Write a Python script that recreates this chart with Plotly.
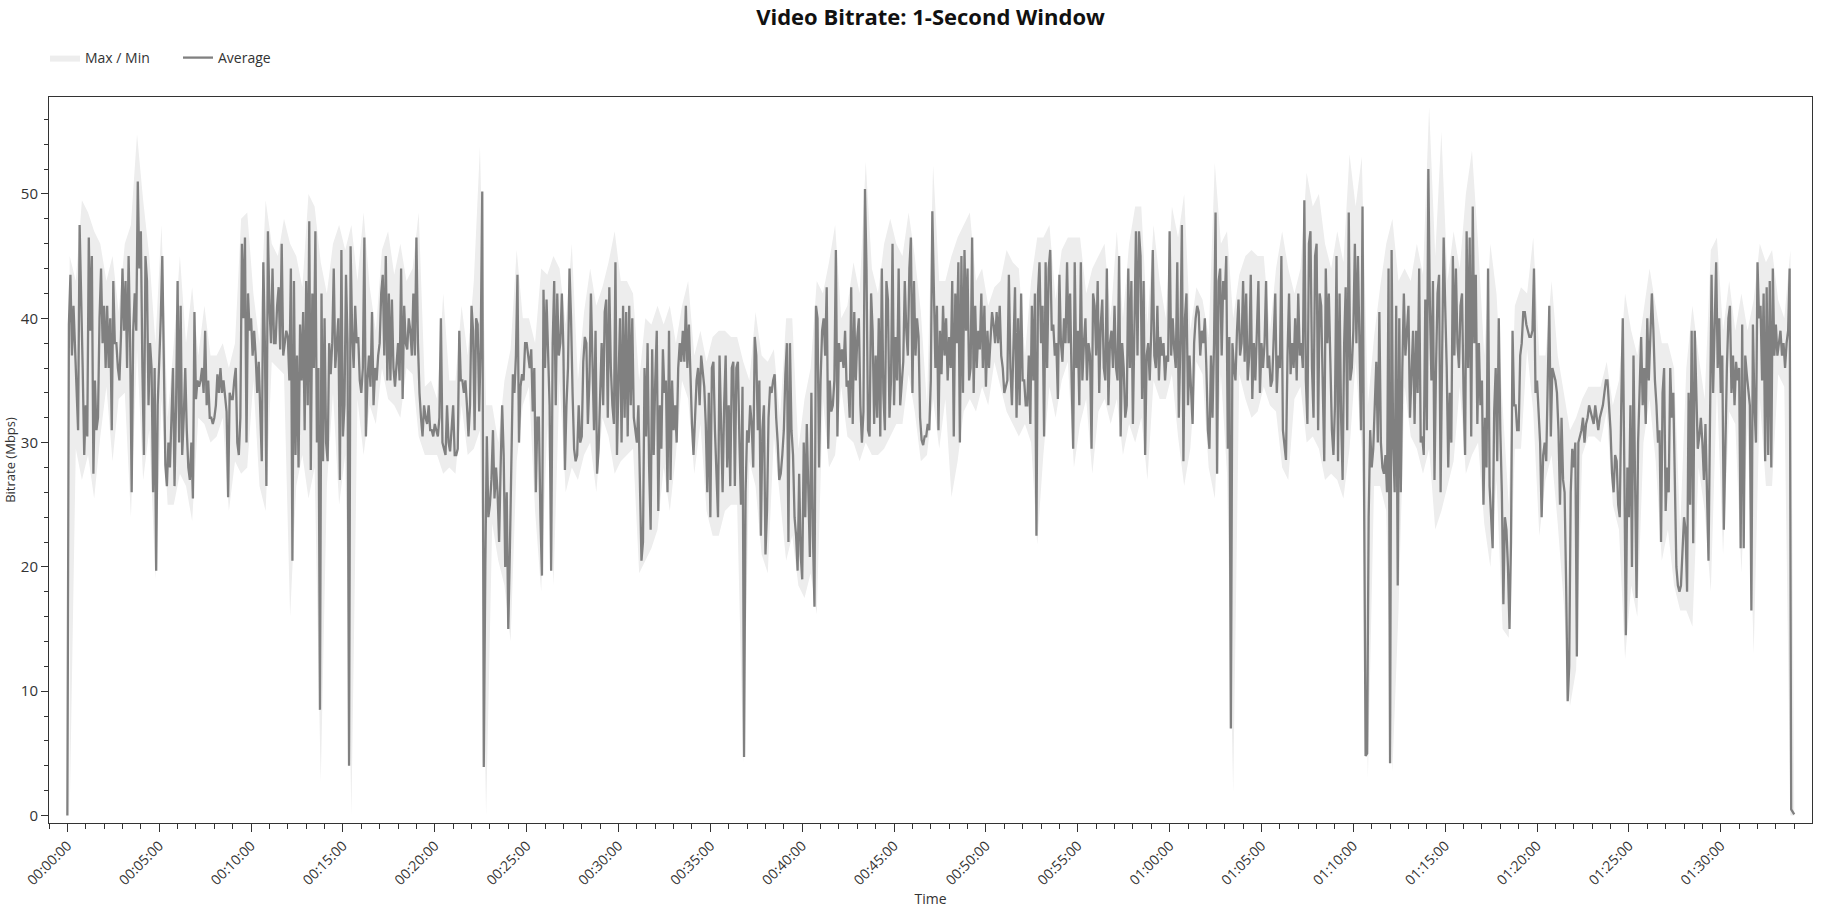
import numpy as np
import pandas as pd
import plotly.graph_objects as go

# ---- Average bitrate (Mbps), one value every 5 s, from 00:00:00 ----
avg_00 = [0, 39.5, 43.5, 37, 41, 37.5, 35, 31, 47.5, 40, 36, 29, 33, 30.5, 46.5, 39, 45, 27.5, 35, 31,
          32, 40, 44, 38, 41, 36, 41, 36, 40, 31, 43, 38, 38, 36, 35, 38.5, 44, 39, 43, 36,
          45, 38, 26, 39, 42, 39, 51, 44, 47, 36, 29, 45, 43, 33, 38, 36, 26, 36, 19.7, 33,
          36, 40, 45, 34, 28.2, 26.5, 30, 28, 33, 36, 26.5, 33, 43, 30, 41, 29, 32, 36, 31, 28,
          27, 30, 25.5, 40.5, 33.5, 35, 34.5, 35, 36, 34, 39, 33, 35, 32, 32, 31.5, 32, 33, 35.5, 34,
          36, 34, 35, 33.5, 32.5, 25.6, 34, 33.5, 33.5, 35, 36, 30, 29, 32, 46, 40, 46.5, 30, 42, 39,
          40, 37, 39, 37, 34, 36.5, 32, 28.5, 44.5, 38, 26.5, 47, 41, 38, 44, 38, 38, 41, 42.5, 37.5,
          46, 37, 38, 39, 38.5, 35, 44, 20.5, 43, 29, 37, 28, 39.5, 35, 40.5, 31, 43, 33, 47.8, 27.8,
          42, 36, 47, 30, 36, 8.5, 42, 28.5, 40, 30, 28.5, 38, 35.5, 38, 44, 36, 38, 40, 27, 45.5,
          30.5, 33, 43.5, 38, 4, 45.8, 39, 36, 41, 38, 38.5, 35, 34, 36, 46.5, 30.5, 35, 37, 34.5, 40.5]
avg_10 = [33, 36, 35, 37, 38, 42, 43.5, 37, 45, 35, 42, 35, 41.5, 36, 34.5, 36.5, 38, 35, 44, 33.5,
          41, 38, 37.5, 40, 39, 37, 42, 37, 46.5, 38, 34, 32, 30.5, 33, 32, 31.5, 33, 31, 31, 30.5,
          31.5, 31, 30.5, 32, 40, 30, 29.5, 29, 33, 30, 29.3, 31.5, 33, 29, 29, 29.5, 39, 35, 35, 34,
          35, 33, 30.5, 33, 41, 39, 31, 40, 39.5, 32.5, 38, 50.2, 3.9, 20, 30.5, 24, 25, 27, 31, 25.5,
          28, 26, 22, 28, 33, 29, 20, 26, 15, 21, 28, 35.5, 34, 37, 43.5, 30, 34.5, 35.5, 35, 38,
          38, 37, 36, 37.5, 32.5, 36, 26, 32, 32, 24, 19.3, 42.3, 36, 41.5, 38, 33, 19.7, 38, 43, 33,
          42, 37, 38, 42, 37.5, 27.8, 33, 36, 44, 40, 34, 29.5, 28.5, 29, 33, 30, 30.5, 36.5, 38.5, 38,
          31.5, 35, 42, 35, 31, 39, 27.5, 29.5, 34, 38, 33, 40.5, 41.5, 32, 42.5, 36, 33, 31.5, 44.5, 29,
          35, 40, 30, 41, 32, 40.5, 30.5, 41, 33, 40, 32, 31, 30, 33, 27, 20.5, 22, 36, 30.5, 38,
          28, 23, 37.5, 29, 35, 39, 24.5, 33, 29.5, 37.5, 34, 35, 26, 39, 27, 35, 31, 33, 30, 36]
avg_20 = [38, 36.5, 39, 36.5, 41, 36, 39.5, 35, 31.5, 29, 32, 35, 36, 33, 37, 35.5, 34.5, 31.5, 26, 34,
          24, 36, 36.5, 31, 27, 24, 37, 30, 26, 33, 37, 28, 33, 26.5, 36, 36.5, 26.5, 36, 36.5, 30,
          25, 34.5, 4.7, 26, 31, 30, 33, 31.5, 28, 38.5, 37, 31, 35, 22.5, 31, 33, 21, 24.5, 32, 34.5,
          34, 35, 35.5, 32, 30, 27, 27.5, 29, 31, 35.5, 38, 22, 38, 31, 29, 24, 22.5, 19.7, 27.5, 21,
          19, 30, 24, 31.5, 26, 20.8, 34, 22.5, 16.8, 41, 40, 28, 35, 39, 40, 37, 42.5, 29.5, 35, 32.5,
          33, 35, 45.5, 30.5, 38, 36.5, 37.5, 36, 39, 34.5, 35, 32, 42.5, 31.5, 40.5, 35, 38.5, 40, 33, 30,
          32.5, 50.4, 44, 31, 30.5, 42, 39, 31.5, 37, 32, 40, 30.5, 44, 34, 31, 43, 41.5, 32, 35, 46,
          33, 38.5, 35, 44, 33, 34.5, 36.5, 43, 39, 37, 44, 46.5, 34, 43, 37, 40, 38.5, 32, 30.2, 29.8,
          30.5, 30.5, 31.5, 31, 35, 48.6, 43.5, 36, 41, 31, 39, 35.5, 41, 37, 40, 35, 38.5, 36, 43, 30.5,
          42, 38, 44.5, 30, 45, 34, 45.5, 39, 44, 35, 36, 46.5, 34, 41, 36, 39, 37.5, 42, 36, 41]
avg_30 = [34.5, 39, 36, 38, 40.5, 39.5, 38, 40.5, 38, 41, 37, 36, 34, 34.5, 35, 43.5, 36, 33, 37, 42.5,
          32, 40, 33, 42, 35, 35, 33, 33, 37, 31.5, 41, 35, 42, 22.5, 42, 44.5, 38, 41, 30.5, 44.5,
          36, 44, 45.5, 39, 39.5, 37, 38, 33.5, 43.5, 38, 36.5, 40, 38, 44.5, 38, 42, 35, 29.5, 44.5, 36,
          39, 33, 44.5, 35, 38, 40, 35, 38, 37, 29.5, 42, 41, 37, 43, 34, 39.5, 41.5, 36, 35, 44,
          33, 38, 39, 36, 41, 36, 35, 45, 30.5, 38, 36, 32, 33, 44, 36, 43, 31.5, 38, 47, 37,
          47, 45, 33.5, 43, 29, 37, 38, 35, 39, 45.5, 37, 36, 41, 35, 38.5, 37, 38, 35, 37, 36.5,
          47, 37, 40, 37.5, 36, 44.5, 32, 38, 47.5, 28.5, 40, 42, 33, 37, 34, 31.5, 38, 40, 41, 40.5,
          37, 39, 38, 40, 36, 31, 29.5, 37, 32, 38, 48.5, 27.5, 43, 44, 37, 43, 41.5, 45, 29.5, 38.5,
          7, 38, 36, 35, 39, 41.5, 37, 38, 43, 36.5, 42, 35, 37, 43.5, 33.5, 38, 35, 40, 43, 34,
          38, 36, 38, 43, 36, 37, 34.5, 35, 38, 42, 34, 37, 36, 45, 31, 29.5, 28.6, 37, 42, 35.5]
avg_40 = [38, 36, 40, 35, 42, 37, 38, 36, 49.5, 35, 31.5, 46, 47, 36, 32, 45, 46, 31, 42, 41,
          35, 28.5, 44, 38, 42, 36, 31, 29, 33, 45, 28.5, 42, 32, 27, 38, 42.5, 31, 48.5, 35, 36,
          39, 46, 38, 45, 38, 31, 49, 31, 4.8, 5, 24, 31, 28, 29.5, 33, 36.5, 30, 40.5, 30, 28,
          27.5, 29, 26, 44, 4.2, 45.5, 30, 26, 41, 18.5, 40, 26, 36, 42, 37, 39, 41, 32, 35, 39,
          31.5, 39, 34, 44, 30, 30.5, 29, 41.5, 31, 52, 41, 35, 43, 27, 36, 42, 43.5, 26, 37, 46.5,
          41, 36, 28, 34, 30, 45, 37, 44, 38, 36, 41, 42, 34, 29, 47, 36, 46.5, 30.5, 49, 38,
          43.5, 31.5, 38, 33, 35, 25, 32, 28, 44, 26.5, 24, 21.5, 32.5, 36, 28.5, 40, 31, 26, 17, 24,
          23, 20, 15, 22, 39, 33, 33, 31, 31, 37, 38, 40.5, 40.5, 39.5, 39, 38.5, 38.5, 39, 44, 34,
          35, 32, 30, 24, 29, 30, 28.5, 35, 41, 30.5, 36, 35.5, 35, 34, 31, 25, 32, 27, 26, 18.5,
          9.2, 12, 26, 29.5, 28, 30, 12.8, 30, 30.5, 31, 32, 30, 31.5, 32, 33, 32.5, 32, 31.5, 33, 32]
avg_50 = [31, 32, 32.5, 33, 34, 35, 35, 33, 31, 27.5, 26, 29, 28.5, 25, 24, 33, 40, 28, 14.5, 28,
          24, 33, 20, 37, 28, 17.5, 30, 35, 38.5, 33, 36, 31.5, 40, 35, 38, 42, 39, 35, 33, 30,
          31, 22, 34, 36, 24.5, 28, 26, 36, 32, 34, 27, 20, 18.5, 18, 18.5, 21, 24, 23, 18, 34,
          25, 39, 21.9, 39, 35, 29.5, 30.5, 32, 30, 27, 31.5, 26, 20.5, 32, 43.5, 34, 39, 44.5, 36, 40,
          34, 37, 23, 30, 36, 40, 41, 34, 37, 33, 36.5, 35, 36, 21.5, 39.5, 21.5, 37, 35.5, 34, 33,
          16.5, 39.5, 33, 30, 44.5, 40, 41, 35, 42, 28.5, 42.5, 29, 43, 28, 44, 37, 39.5, 37, 38, 39,
          37, 38, 36, 38, 39, 44, 0.5, 0.3, 0.1]

# ---- Max / Min envelope (Mbps), one value per 20 s window ----
band_max = [45, 43, 49.5, 48.5, 47, 46, 43, 45, 40.5, 46,
            47.5, 54.8, 49.5, 45, 38, 47.5, 32, 38, 45, 38,
            42.5, 37, 41, 37, 37, 38, 36, 38, 48, 48.5,
            42, 38, 49.5, 46, 45, 48, 46, 45, 42.5, 50,
            49, 44.5, 42, 46, 47.5, 45.5, 47.5, 43, 48.5, 42.5,
            39, 45.5, 47, 43.5, 46, 43, 44, 48.5, 34.5, 35,
            33.5, 42, 35, 35, 41, 37, 43, 53.8, 33, 33,
            30, 35, 37.5, 45.5, 40, 40, 38, 44, 43.5, 45,
            44, 39.5, 46, 35, 40.5, 44, 41, 42.5, 44.5, 47,
            43, 43, 42, 35, 40, 39.5, 41, 39.5, 41, 38,
            41, 43, 37, 39, 36.5, 38.5, 39, 39, 38.5, 38.5,
            36.5, 35, 40.5, 37, 36.5, 37.5, 32, 40, 40, 29.5,
            33.5, 36, 43, 42, 44.5, 47.5, 40, 41, 44.5, 42,
            52.6, 44, 42, 46, 48, 46, 45, 48.5, 45, 40.5,
            33, 52.3, 43, 43, 45, 46.5, 47.5, 48.5, 43, 44,
            41, 42.5, 43, 45.5, 44.5, 44, 37, 43, 46.5, 46.5,
            47.5, 41.5, 45.5, 46.5, 46.5, 46.5, 42, 44, 45, 46,
            40, 47, 40, 46, 49, 49, 39.5, 47.5, 43, 40,
            49, 46.5, 50, 39, 42.5, 41.5, 38.5, 52.5, 46, 47,
            40, 43.5, 45, 45.5, 45, 45, 39, 44, 47, 44,
            42, 44, 51.7, 49, 50, 46, 44, 47, 44.5, 53.2,
            49, 53, 33, 38.5, 42.5, 46, 48, 43, 44, 43,
            46, 43.5, 57, 45, 55, 43, 47, 44, 50, 53.5,
            46, 37, 46, 42, 33, 25, 41, 42.5, 42, 46.5,
            37, 37, 43, 37, 34, 31, 32, 33.5, 34.5, 34.5,
            34.5, 36.5, 33, 35, 42, 39, 37, 40.5, 44, 41,
            38, 38, 36, 23, 36, 41, 37, 33.5, 45.5, 46.5,
            39, 43, 39, 42, 39, 41.5, 46, 44.5, 45.5, 41.5,
            40, 45.5, 0.3]
band_min = [0, 29.5, 27, 29, 25.5, 30.5, 34.5, 28.5, 33.5, 34,
            24, 37.5, 27, 31, 19, 33.5, 25, 25, 27.5, 26.5,
            23.7, 32, 31.5, 30, 30.5, 32, 24.5, 28.5, 27.5, 28,
            35, 26.5, 24.5, 36.5, 36, 35.5, 16, 26.5, 29, 25.5,
            28, 2.7, 26.5, 34, 25, 29, 0, 33.5, 29, 33,
            31.5, 36, 33.5, 33, 32, 36, 35.5, 30.5, 29, 29,
            29, 27.5, 28, 27.5, 33, 29, 29.5, 31, 0, 23.5,
            20.5, 18.5, 14, 28.5, 33, 34.5, 24.5, 18, 31.5, 18.5,
            35, 26, 28, 27, 29, 30, 26, 32, 30.5, 27.5,
            28.5, 29, 29.5, 19.5, 20.5, 21.5, 23, 28, 24.5, 29,
            35, 33.5, 27.5, 31.5, 24.5, 22.5, 22.5, 24.5, 25, 25,
            4.2, 28.5, 26.5, 21, 19.5, 30.5, 25.5, 20.5, 22.5, 18.5,
            17.5, 19.5, 16.2, 33.5, 28, 29, 34.5, 30.5, 30, 28.5,
            30, 29, 29, 29.5, 30.5, 31.5, 31.5, 35.5, 32.5, 28.5,
            29, 33.5, 29.5, 33.5, 25.6, 28.5, 32.5, 33.5, 32.5, 34.5,
            33, 36.5, 34.5, 32.5, 31.5, 30.5, 31.5, 30, 21.8, 29,
            34.5, 32, 35, 36.5, 28, 31.5, 33.5, 27.5, 32.5, 33.5,
            31.5, 33.5, 29, 31.5, 30, 32, 27, 35, 33.5, 33.5,
            35.5, 30.5, 26.5, 29.5, 36.5, 35.5, 28, 25.5, 35.5, 27.5,
            1.8, 35.5, 33.5, 32, 32.5, 34.5, 33, 32.5, 28, 27,
            33.5, 34.5, 30, 30.5, 29.5, 27, 27.5, 27, 25.5, 29.5,
            36.5, 29.5, 3, 26.5, 26.5, 24.5, 3.5, 16.5, 34.5, 30.5,
            29.5, 27.5, 29.5, 23, 24.5, 26.5, 28.5, 34.5, 27.5, 29,
            30, 23.5, 20, 27, 15, 14.3, 29.5, 29.5, 37.5, 32.5,
            22.5, 27, 29, 23.5, 17, 8.8, 11.7, 29, 30.5, 30.5,
            30, 32.5, 25, 23, 12.6, 18.5, 16, 30, 33.5, 28.5,
            20.5, 23, 18.5, 16.5, 16.5, 15.2, 28, 24.5, 18, 34.5,
            21, 32.5, 31.5, 19.5, 31.5, 13, 33.5, 26.5, 26.5, 35.5,
            34.5, 0, 0]

AVG_STEP_S = 5
BAND_STEP_S = 20

avg = avg_00 + avg_10 + avg_20 + avg_30 + avg_40 + avg_50
t_avg = np.arange(len(avg)) * AVG_STEP_S
t_end = t_avg[-1]
nb = min(len(band_max), len(band_min))
t_band = np.minimum(np.arange(nb) * BAND_STEP_S + BAND_STEP_S * 0.375, t_end)

base = pd.Timestamp("1970-01-01 00:00:00")
x_avg = base + pd.to_timedelta(t_avg, unit="s")
x_band = base + pd.to_timedelta(t_band, unit="s")

FONT = "Open Sans"
TXT = "#333333"
AX = "#333333"

fig = go.Figure()
fig.add_trace(go.Scatter(x=x_band, y=band_min[:nb], mode="lines", line=dict(width=0, color="#ebebeb"),
                         showlegend=False, legendgroup="band", hoverinfo="skip"))
fig.add_trace(go.Scatter(x=x_band, y=band_max[:nb], mode="lines", line=dict(width=0, color="#ebebeb"),
                         fill="tonexty", fillcolor="#ededed", name="Max / Min", legendgroup="band",
                         hoverinfo="skip"))
fig.add_trace(go.Scatter(x=x_avg, y=avg, mode="lines", line=dict(width=2.3, color="#808080"),
                         name="Average"))

W, H = 1832, 911
fig.update_layout(
    width=W, height=H,
    margin=dict(l=49, r=20, t=97, b=88, pad=0, autoexpand=False),
    paper_bgcolor="white", plot_bgcolor="white",
    font=dict(family=FONT, size=14, color=TXT),
    title=dict(text="<b>Video Bitrate: 1-Second Window</b>", x=0.5, xref="paper",
               y=1 - 17 / H, yref="container", yanchor="middle", xanchor="center",
               font=dict(family=FONT, size=22, color="#111111")),
    legend=dict(orientation="h", x=45 / W, xref="container", y=1 - 58 / H, yref="container",
                yanchor="middle", xanchor="left", font=dict(size=14, color=TXT),
                itemwidth=30, entrywidth=88, bgcolor="rgba(0,0,0,0)"),
    showlegend=True,
)
fig.update_xaxes(
    type="date", automargin=False,
    range=[base - pd.Timedelta(seconds=60), base + pd.Timedelta(seconds=5698)],
    tickformat="%H:%M:%S", dtick=300000, tick0=base,
    tickangle=-45, ticks="outside", ticklen=8, tickwidth=1, tickcolor=AX,
    minor=dict(dtick=60000, ticks="outside", ticklen=5, tickwidth=1, tickcolor=AX),
    showline=True, linecolor=AX, linewidth=1, mirror=True,
    showgrid=False, zeroline=False,
    tickfont=dict(size=14, color=TXT),
    title=dict(text="Time", font=dict(size=14, color=TXT), standoff=6),
)
fig.update_yaxes(
    automargin=False,
    range=[-0.6, 57.8], dtick=10, tick0=0,
    ticks="outside", ticklen=7, tickwidth=1, tickcolor=AX,
    minor=dict(dtick=2, ticks="outside", ticklen=4, tickwidth=1, tickcolor=AX),
    showline=True, linecolor=AX, linewidth=1, mirror=True,
    showgrid=False, zeroline=False,
    tickfont=dict(size=15, color=TXT),
    title=dict(text="Bitrate (Mbps)", font=dict(size=13, color=TXT), standoff=2),
)

fig.write_html("out.html", config={"displayModeBar": False},
               post_script="document.body.style.margin='0';document.body.style.overflow='hidden';")
